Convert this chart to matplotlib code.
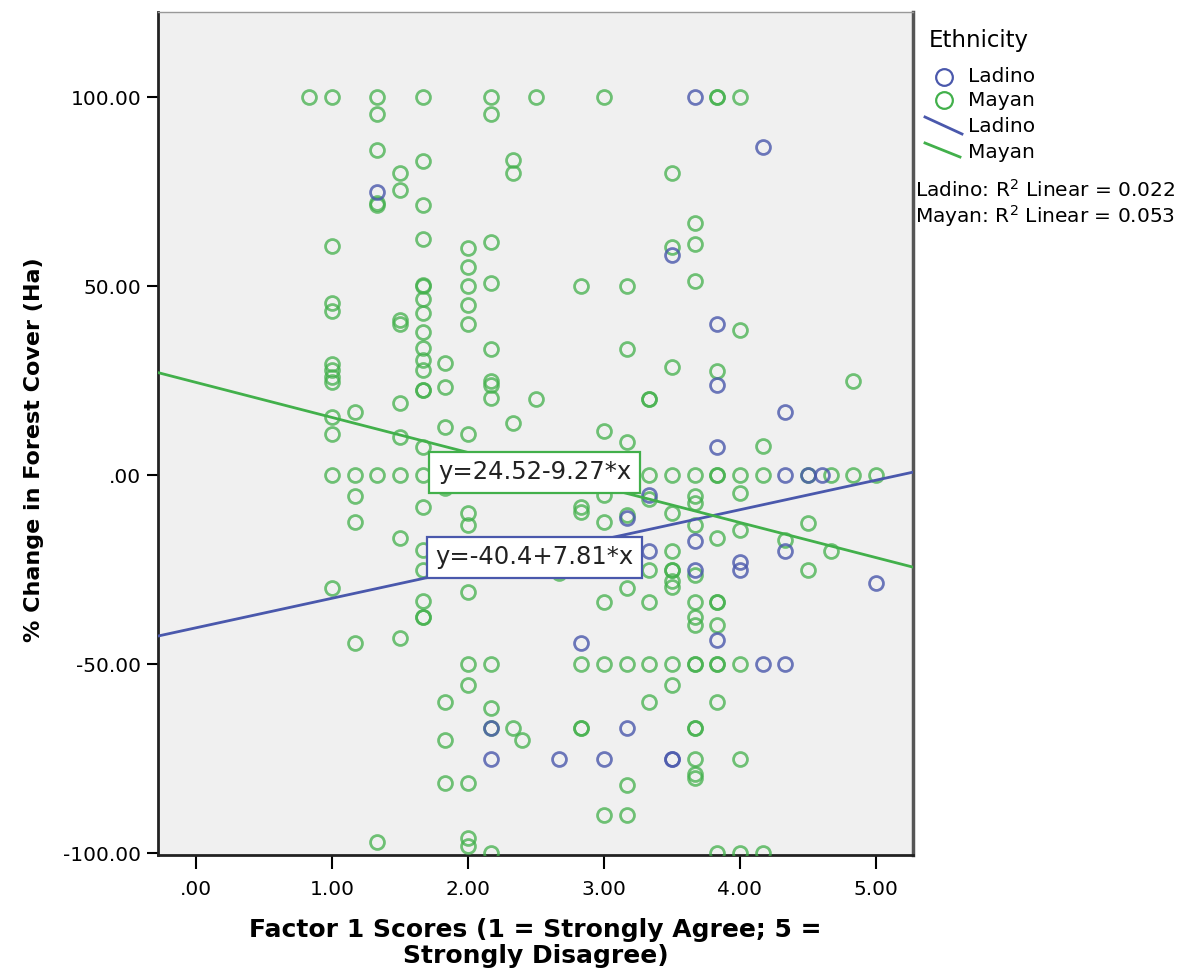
import matplotlib
matplotlib.use("Agg")
import matplotlib.pyplot as plt
from matplotlib.lines import Line2D
import numpy as np

# Factor 1 scores and % change in forest cover, per respondent group
mayan_x = (
    [0.83]
    + [1.0] * 12
    + [1.17] * 5
    + [1.33] * 7
    + [1.5] * 9
    + [1.67] * 22
    + [1.83] * 8
    + [2.0] * 15
    + [2.17] * 13
    + [2.33] * 5
    + [2.4]
    + [2.5] * 3
    + [2.67]
    + [2.83] * 7
    + [3.0] * 9
    + [3.17] * 9
    + [3.33] * 8
    + [3.5] * 12
    + [3.67] * 18
    + [3.83] * 13
    + [4.0] * 8
    + [4.17] * 3
    + [4.33]
    + [4.5] * 3
    + [4.67] * 2
    + [4.83] * 2
    + [5.0]
)
mayan_y = (
    [100]
    + [100, 60.6, 45.5, 43.4, 29.4, 27.8, 26, 24.6, 15.3, 10.8, 0, -30]
    + [16.7, 0, -5.6, -12.4, -44.4]
    + [100, 95.5, 86, 72, 71.4, 0, -97]
    + [80, 75.4, 41, 40, 19, 10, 0, -16.7, -43]
    + [100, 83, 71.4, 62.4, 50.3, 50, 46.6, 43, 37.8, 33.6, 30.4, 27.8, 22.5,
       22.5, 7.4, 0, -8.5, -19.8, -25, -33.3, -37.6, -37.6]
    + [29.6, 23.3, 12.7, 0, -3.4, -60, -70, -81.5]
    + [60, 55, 50, 45, 40, 11, 0, -10, -13.2, -31, -50, -55.6, -81.5, -96, -98]
    + [100, 95.5, 61.6, 50.8, 33.3, 25, 23.8, 20.4, 0, -50, -61.7, -67, -100]
    + [83.3, 80, 13.7, 0, -67]
    + [-70]
    + [100, 20, 0]
    + [-26]
    + [50, 0, -8.5, -9.8, -50, -67, -67]
    + [100, 11.6, 0, -5.3, -12.4, -25, -33.6, -50, -90]
    + [50, 33.3, 8.7, 0, -10.6, -30, -50, -82, -90]
    + [20, 20, 0, -6.3, -25, -33.6, -50, -60]
    + [80, 60.3, 28.6, 0, -10, -20, -25, -25, -28, -29.6, -50, -55.6]
    + [66.7, 61.1, 51.3, 0, -5.6, -7.5, -13.2, -26.5, -33.6, -37.6, -39.7,
       -50, -50, -67, -67, -75, -79, -80]
    + [100, 100, 27.5, 0, 0, -16.7, -33.6, -33.6, -39.7, -50, -50, -60, -100]
    + [100, 38.4, 0, -4.8, -14.5, -50, -75, -100]
    + [7.7, 0, -100]
    + [-17.2]
    + [0, -12.7, -25]
    + [0, -20]
    + [25, 0]
    + [0]
)

ladino_x = [1.33, 2.17, 2.17, 2.67, 2.83, 3.0, 3.17, 3.17, 3.33, 3.33,
            3.5, 3.5, 3.5, 3.67, 3.67, 3.67, 3.83, 3.83, 3.83, 3.83,
            4.0, 4.0, 4.17, 4.17, 4.33, 4.33, 4.33, 4.33, 4.5, 4.6, 5.0]
ladino_y = [75, -67, -75, -75, -44.4, -75, -11.4, -67, -5.3, -20,
            58.2, -75, -75, 100, -17.5, -25, 40, 23.8, 7.4, -43.7,
            -23, -25, 86.8, -50, 16.7, 0, -20, -50, 0, 0, -28.6]

# Linear fit lines (intercept, slope) and R-squared
mayan_fit = (24.52, -9.27)
ladino_fit = (-40.4, 7.81)
mayan_r2 = 0.053
ladino_r2 = 0.022

x_ticks = [0, 1, 2, 3, 4, 5]
x_ticklabels = [".00", "1.00", "2.00", "3.00", "4.00", "5.00"]
y_ticks = [-100, -50, 0, 50, 100]
y_ticklabels = ["-100.00", "-50.00", ".00", "50.00", "100.00"]

GREEN = "#42B04B"
BLUE = "#4A58AC"
W, H = 1195, 971

fig = plt.figure(figsize=(W / 100, H / 100), dpi=100)
fig.patch.set_facecolor("white")
ax = fig.add_axes([158 / W, 1 - 855 / H, (913 - 158) / W, (855 - 12) / H])
ax.set_facecolor("#F0F0F0")

xlim = (-0.279, 5.272)
ax.set_xlim(*xlim)
ax.set_ylim(-100.5, 122.5)

ax.plot(mayan_x, mayan_y, linestyle="none", marker="o", markersize=10,
        markerfacecolor="none", markeredgecolor=GREEN, markeredgewidth=2,
        alpha=0.75, zorder=3)
ax.plot(ladino_x, ladino_y, linestyle="none", marker="o", markersize=10,
        markerfacecolor="none", markeredgecolor=BLUE, markeredgewidth=2,
        alpha=0.8, zorder=3)

xs = np.array(xlim)
ax.plot(xs, ladino_fit[0] + ladino_fit[1] * xs, color=BLUE, lw=2, zorder=4)
ax.plot(xs, mayan_fit[0] + mayan_fit[1] * xs, color=GREEN, lw=2, zorder=4)

box_x = 2.49
ax.text(box_x, 0.8, f"y={mayan_fit[0]:.2f}{mayan_fit[1]:.2f}*x",
        ha="center", va="center", fontsize=17.5, color="#222222", zorder=6,
        bbox=dict(boxstyle="square,pad=0.35", facecolor="white",
                  edgecolor=GREEN, lw=1.6))
ax.text(box_x, -21.7, f"y={ladino_fit[0]:.1f}+{ladino_fit[1]:.2f}*x",
        ha="center", va="center", fontsize=17.5, color="#222222", zorder=6,
        bbox=dict(boxstyle="square,pad=0.35", facecolor="white",
                  edgecolor=BLUE, lw=1.6))

ax.set_xticks(x_ticks)
ax.set_xticklabels(x_ticklabels)
ax.set_yticks(y_ticks)
ax.set_yticklabels(y_ticklabels)
ax.tick_params(axis="x", direction="out", length=10, width=1.5, pad=8,
               labelsize=14.5, colors="black")
ax.tick_params(axis="y", direction="out", length=8, width=1.5, pad=4,
               labelsize=14.5, colors="black")

for side in ("left", "bottom"):
    ax.spines[side].set_linewidth(2)
    ax.spines[side].set_color("#222222")
ax.spines["right"].set_linewidth(2.5)
ax.spines["right"].set_color("#555555")
ax.spines["top"].set_linewidth(1)
ax.spines["top"].set_color("#999999")

ax.set_xlabel("Factor 1 Scores (1 = Strongly Agree; 5 =\nStrongly Disagree)",
              fontsize=18, fontweight="bold", linespacing=1.1)
ax.xaxis.set_label_coords(0.5, -(968 - 855) / 843, transform=ax.transAxes)
ax.xaxis.label.set_va("bottom")
ax.set_ylabel("% Change in Forest Cover (Ha)", fontsize=16,
              fontweight="bold")
ax.yaxis.set_label_coords((44 - 158) / 755, (855 - 450) / 843)


def fx(px):
    return px / W


def fy(py):
    return 1 - py / H


# Legend panel
fig.text(fx(929), fy(41), "Ethnicity", fontsize=16.5, va="center", ha="left")
fig.add_artist(Line2D([fx(944)], [fy(77)], marker="o", markersize=12,
                      markerfacecolor="none", markeredgecolor=BLUE,
                      markeredgewidth=1.6, transform=fig.transFigure))
fig.add_artist(Line2D([fx(944)], [fy(100)], marker="o", markersize=12,
                      markerfacecolor="none", markeredgecolor=GREEN,
                      markeredgewidth=1.6, transform=fig.transFigure))
fig.add_artist(Line2D([fx(925), fx(962)], [fy(117), fy(134)], color=BLUE,
                      lw=2, transform=fig.transFigure))
fig.add_artist(Line2D([fx(925), fx(960)], [fy(143), fy(157)], color=GREEN,
                      lw=2, transform=fig.transFigure))
for py, name in [(77, "Ladino"), (101, "Mayan"), (126, "Ladino"), (152, "Mayan")]:
    fig.text(fx(968), fy(py), name, fontsize=14.5, va="center", ha="left")
fig.text(fx(915), fy(190), f"Ladino: R$^2$ Linear = {ladino_r2:.3f}",
         fontsize=14.5, va="center", ha="left")
fig.text(fx(915), fy(216), f"Mayan: R$^2$ Linear = {mayan_r2:.3f}",
         fontsize=14.5, va="center", ha="left")

fig.savefig("out.png", dpi=100, facecolor="white")
